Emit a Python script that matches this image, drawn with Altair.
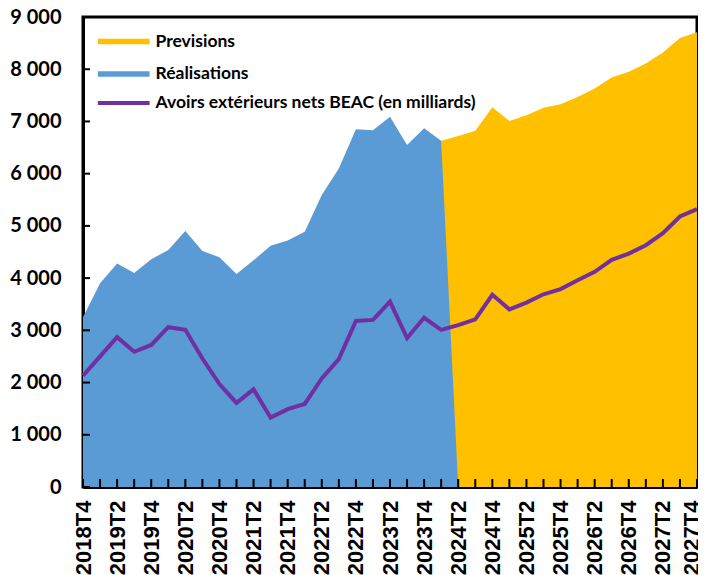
import altair as alt
import pandas as pd

quarters = ["2018T4"] + [f"{y}T{q}" for y in range(2019, 2028) for q in (1, 2, 3, 4)]

# Réalisations: 2018T4 .. 2024T2 (drops to 0 at 2024T2)
realisations = [3250, 3900, 4280, 4100, 4360, 4540, 4900, 4520, 4400, 4080,
                4340, 4620, 4720, 4890, 5590, 6100, 6850, 6830, 7090, 6550,
                6870, 6630, 0]
# Previsions: 2024T1 .. 2027T4
previsions = [6630, 6720, 6820, 7270, 7010, 7120, 7260, 7330, 7470, 7630,
              7840, 7950, 8110, 8320, 8600, 8710]
# Avoirs extérieurs nets BEAC: 2018T4 .. 2027T4
avoirs = [2130, 2500, 2870, 2590, 2720, 3060, 3010, 2460, 1970, 1610,
          1870, 1330, 1490, 1590, 2080, 2450, 3180, 3200, 3550, 2850,
          3240, 3010, 3100, 3210, 3680, 3400, 3530, 3690, 3790, 3960,
          4120, 4350, 4470, 4630, 4860, 5180, 5320]
y_ticks = [0, 1000, 2000, 3000, 4000, 5000, 6000, 7000, 8000, 9000]

S_PREV = "Previsions"
S_REAL = "Réalisations"
S_AV = "Avoirs extérieurs nets BEAC (en milliards)"

df_real = pd.DataFrame({"q": quarters[:len(realisations)], "v": realisations, "s": S_REAL})
df_prev = pd.DataFrame({"q": quarters[21:21 + len(previsions)], "v": previsions, "s": S_PREV})
df_av = pd.DataFrame({"q": quarters, "v": avoirs, "s": S_AV})
df_q = pd.DataFrame({"q": quarters})
df_y = pd.DataFrame({"v": y_ticks})

W, H = 614, 470

xscale = alt.Scale(type="point", padding=0, domain=quarters)
yscale = alt.Scale(domain=[0, 9000], nice=False)

x_axis = alt.Axis(
    title=None, labelAngle=270, labelFont="Liberation Sans", labelFontWeight="bold",
    labelFontSize=22, labelColor="black", labelPadding=13, ticks=False,
    domainColor="black", domainWidth=3, grid=False, labelOverlap=False,
    labelBound=False, labelFlush=False,
    labelOffset={"condition": {"test": "datum.value == '2027T4'", "value": -6}, "value": 0},
    labelExpr="indexof(datum.value, 'T2') >= 0 || indexof(datum.value, 'T4') >= 0 ? datum.value : ''",
)
y_axis = alt.Axis(
    title=None, values=y_ticks, labelFont="Lato", labelFontWeight="bold",
    labelFontSize=20, labelColor="black", labelPadding=22, ticks=False,
    domainColor="black", domainWidth=3, grid=False,
    labelExpr="replace(format(datum.value, ','), ',', ' ')",
)

fill_scale = alt.Scale(domain=[S_PREV, S_REAL], range=["#FFC000", "#5B9BD5"])
stroke_scale = alt.Scale(domain=[S_AV], range=["#7030A0"])

legend_common = dict(
    orient="none", legendX=14, title=None, symbolSize=121, symbolOffset=18,
    labelOffset=23, labelFont="Lato", labelFontSize=17.5, labelFontWeight="bold",
    labelColor="black", rowPadding=13.5, padding=0, labelLimit=0,
)
fill_legend = alt.Legend(legendY=15.75, symbolType="M-4.7,-0.5L4.7,-0.5L4.7,0.5L-4.7,0.5Z",
                         symbolStrokeWidth=0, **legend_common)
stroke_legend = alt.Legend(legendY=77.25, symbolType="M-4.7,0L4.7,0",
                           symbolStrokeWidth=4, **legend_common)

prev_area = alt.Chart(df_prev).mark_area(opacity=1).encode(
    x=alt.X("q:O", scale=xscale, axis=x_axis, sort=quarters),
    y=alt.Y("v:Q", scale=yscale, axis=y_axis, stack=None),
    fill=alt.Fill("s:N", scale=fill_scale, legend=fill_legend),
)
real_area = alt.Chart(df_real).mark_area(opacity=1).encode(
    x=alt.X("q:O", scale=xscale, sort=quarters),
    y=alt.Y("v:Q", scale=yscale, stack=None),
    fill=alt.Fill("s:N", scale=fill_scale, legend=fill_legend),
)
line = alt.Chart(df_av).mark_line(strokeWidth=4).encode(
    x=alt.X("q:O", scale=xscale, sort=quarters),
    y=alt.Y("v:Q", scale=yscale),
    stroke=alt.Stroke("s:N", scale=stroke_scale, legend=stroke_legend),
)
xticks = alt.Chart(df_q).mark_rule(color="black", strokeWidth=2).encode(
    x=alt.X("q:O", scale=xscale, sort=quarters),
    y=alt.value(H - 8), y2=alt.value(H),
)
yticks = alt.Chart(df_y).mark_rule(color="black", strokeWidth=2).encode(
    y=alt.Y("v:Q", scale=yscale),
    x=alt.value(0), x2=alt.value(7),
)

chart = alt.layer(prev_area, real_area, line, xticks, yticks).properties(
    width=W, height=H,
    autosize=alt.AutoSizeParams(type="none"),
    padding={"left": 75, "top": 9, "right": 1, "bottom": 88},
    background="white",
).configure_view(stroke="black", strokeWidth=3)

chart.save("out.html", embed_options={"renderer": "svg", "actions": False})
